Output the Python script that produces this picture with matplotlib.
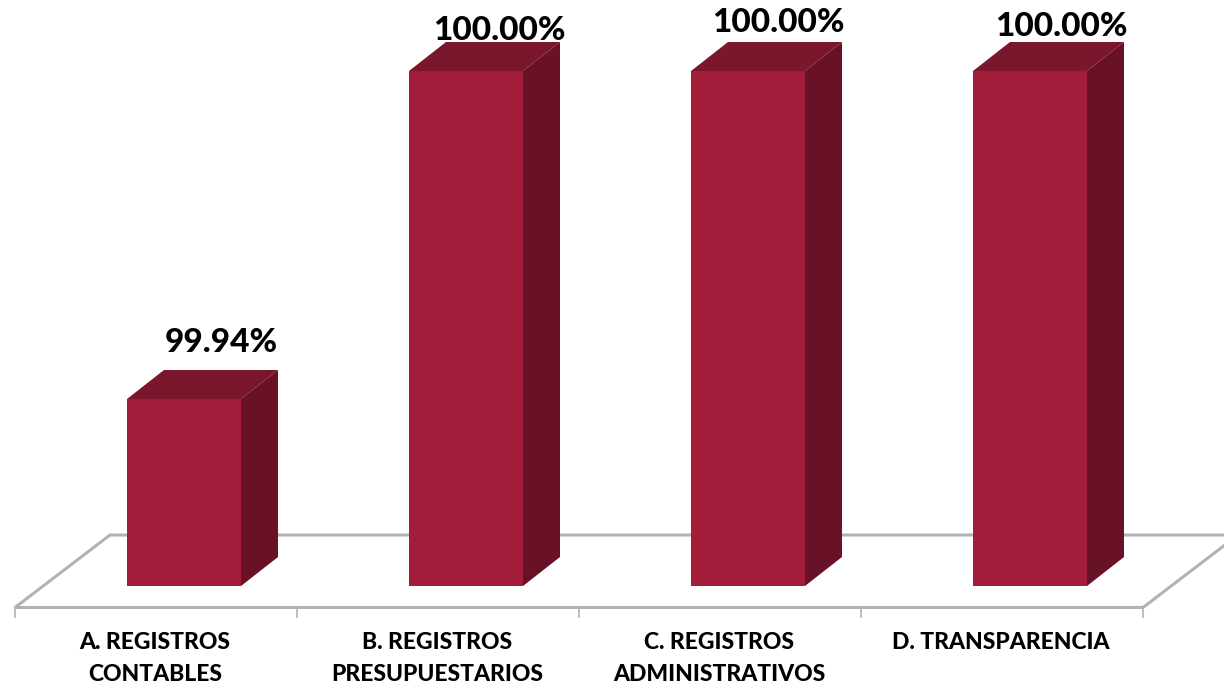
import matplotlib.pyplot as plt
from matplotlib.patches import Polygon

categories = ['A. REGISTROS\nCONTABLES', 'B. REGISTROS\nPRESUPUESTARIOS',
              'C. REGISTROS\nADMINISTRATIVOS', 'D. TRANSPARENCIA']
values = [99.94, 100.00, 100.00, 100.00]
value_labels = ['99.94%', '100.00%', '100.00%', '100.00%']

# label nudges in px from the top of each bar, the original has them hand placed
label_dx = [37, 33, 30, 31]
label_dy = [57, 41, 48, 44]

FRONT = '#a31d3b'
TOP = '#7a172c'
SIDE = '#691126'
GREY = '#b2b2b2'

plt.rcParams['font.family'] = ['Lato', 'DejaVu Sans']

fig = plt.figure(figsize=(12.24, 6.88), dpi=100)
ax = fig.add_axes([0, 0, 1, 1])
ax.set_axis_off()

# 282 px per category, 5467 px per percentage point
xpx = 1 / 282
ypx = 0.06 / 328
base = 99.94 - 187 * ypx
ax.set_xlim(-184 * xpx, (1224 - 184) * xpx)
ax.set_ylim(base - (688 - 586) * ypx, base + 586 * ypx)

# floor
x0 = -169 * xpx
x1 = x0 + 4
y_front = base - 21.5 * ypx
y_back = base + 51 * ypx
floor_dx = 95 * xpx
ax.plot([x1 + floor_dx, x0 + floor_dx, x0, x1, x1 + floor_dx],
        [y_back, y_back, y_front, y_front, y_back],
        color=GREY, lw=2.2, solid_joinstyle='miter', zorder=1)
for i in range(5):
    ax.plot([x0 + i, x0 + i], [y_front, y_front - 10 * ypx], color=GREY, lw=1.2, zorder=1)

# bars
width = 114 * xpx
dx = 37 * xpx
dy = 29 * ypx
xs = range(len(values))
ax.bar(xs, [v - base for v in values], width, bottom=base, color=FRONT, linewidth=0, zorder=3)
for i, v in zip(xs, values):
    l = i - width / 2
    r = i + width / 2
    ax.add_patch(Polygon([(l, v), (r, v), (r + dx, v + dy), (l + dx, v + dy)],
                         color=TOP, lw=0, zorder=2))
    ax.add_patch(Polygon([(r, base), (r + dx, base + dy), (r + dx, v + dy), (r, v)],
                         color=SIDE, lw=0, zorder=2))

for i, v in zip(xs, values):
    ax.annotate(value_labels[i], (i, v), xytext=(label_dx[i] * 0.72, label_dy[i] * 0.72),
                textcoords='offset points', ha='center', va='center',
                fontsize=24, fontweight='black', color='black', zorder=4)

for i, c in enumerate(categories):
    ax.annotate(c, (x0 + 0.5 + i, y_front), xytext=(-1 * 0.72, -24.5 * 0.72),
                textcoords='offset points', ha='center', va='top',
                fontsize=16.5, fontweight='black', color='black', linespacing=1.63)

fig.savefig('out.png', dpi=100, facecolor='white')
